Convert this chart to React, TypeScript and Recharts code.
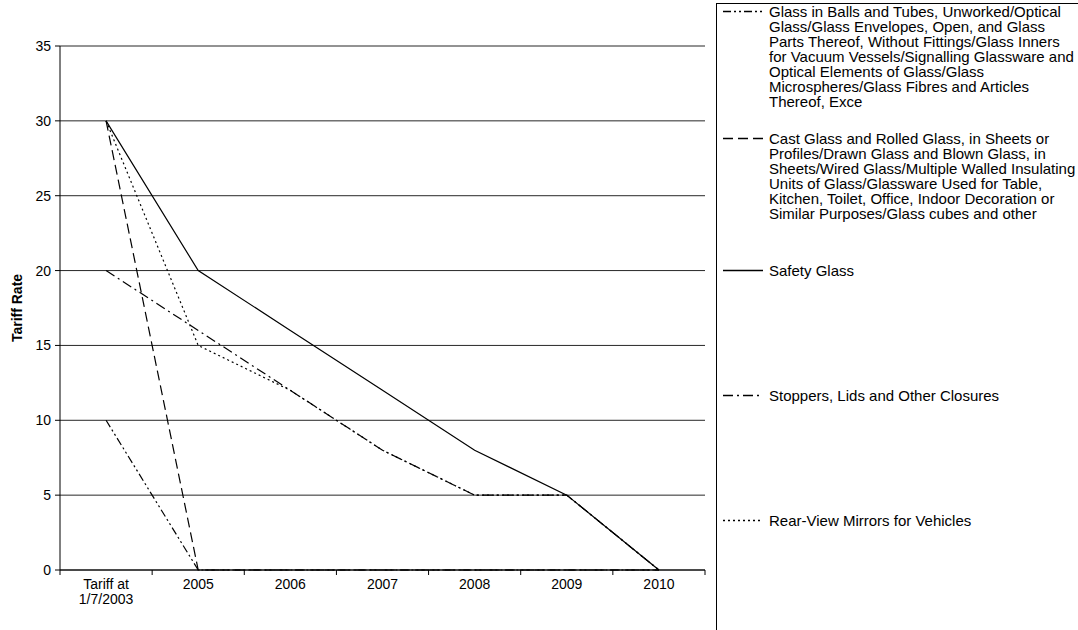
import React from 'react';
import { LineChart, Line, XAxis, YAxis, CartesianGrid, Legend, Label } from 'recharts';

// --- data ---
const categories = ['Tariff at 1/7/2003', '2005', '2006', '2007', '2008', '2009', '2010'];
const categoryLines = [['Tariff at', '1/7/2003'], ['2005'], ['2006'], ['2007'], ['2008'], ['2009'], ['2010']];

const glassBalls = [10, 0, 0, 0, 0, 0, 0];
const castGlass = [30, 0, 0, 0, 0, 0, 0];
const safetyGlass = [30, 20, 16, 12, 8, 5, 0];
const stoppers = [20, 16, 12, 8, 5, 5, 0];
const rearView = [30, 15, 12, 8, 5, 5, 0];

const yTicks = [0, 5, 10, 15, 20, 25, 30, 35];

const series = [
    {
        key: 'glassBalls',
        values: glassBalls,
        name: 'Glass in Balls and Tubes, Unworked/Optical Glass/Glass Envelopes, Open, and Glass Parts Thereof, Without Fittings/Glass Inners for Vacuum Vessels/Signalling Glassware and Optical Elements of Glass/Glass Microspheres/Glass Fibres and Articles Thereof, Exce',
        lines: [
            'Glass in Balls and Tubes, Unworked/Optical',
            'Glass/Glass Envelopes, Open, and Glass',
            'Parts Thereof, Without Fittings/Glass Inners',
            'for Vacuum Vessels/Signalling Glassware and',
            'Optical Elements of Glass/Glass',
            'Microspheres/Glass Fibres and Articles',
            'Thereof, Exce',
        ],
        dash: '8 3 2 3 2 3',
    },
    {
        key: 'castGlass',
        values: castGlass,
        name: 'Cast Glass and Rolled Glass, in Sheets or Profiles/Drawn Glass and Blown Glass, in Sheets/Wired Glass/Multiple Walled Insulating Units of Glass/Glassware Used for Table, Kitchen, Toilet, Office, Indoor Decoration or Similar Purposes/Glass cubes and other',
        lines: [
            'Cast Glass and Rolled Glass, in Sheets or',
            'Profiles/Drawn Glass and Blown Glass, in',
            'Sheets/Wired Glass/Multiple Walled Insulating',
            'Units of Glass/Glassware Used for Table,',
            'Kitchen, Toilet, Office, Indoor Decoration or',
            'Similar Purposes/Glass cubes and other',
        ],
        dash: '10 5',
    },
    { key: 'safetyGlass', values: safetyGlass, name: 'Safety Glass', lines: ['Safety Glass'], dash: undefined },
    { key: 'stoppers', values: stoppers, name: 'Stoppers, Lids and Other Closures', lines: ['Stoppers, Lids and Other Closures'], dash: '10 4 2 4' },
    { key: 'rearView', values: rearView, name: 'Rear-View Mirrors for Vehicles', lines: ['Rear-View Mirrors for Vehicles'], dash: '2 3' },
];

const data = categories.map((c, i) => {
    const row: any = { name: c };
    series.forEach((s) => { row[s.key] = s.values[i]; });
    return row;
});

// legend item offsets (px from legend top)
const legendTops = [0, 127, 259, 384, 509];

const FONT = '"Liberation Sans", Arial, sans-serif';

// category label + Excel-style tick marks between categories
function CategoryTick({ x, y, payload, width, visibleTicksCount }: any) {
    const lines = categoryLines[payload.index] || [payload.value];
    const half = width / visibleTicksCount / 2;
    const isLast = payload.index === visibleTicksCount - 1;
    return (
        <g>
            <line x1={x - half} x2={x - half} y1={y} y2={y + 5} stroke="#000" />
            {isLast && <line x1={x + half} x2={x + half} y1={y} y2={y + 5} stroke="#000" />}
            <text x={x} y={y} textAnchor="middle" fontSize={14} fill="#000" fontFamily={FONT}>
                {lines.map((l, i) => (
                    <tspan key={i} x={x} dy={i === 0 ? 19 : 15}>{l}</tspan>
                ))}
            </text>
        </g>
    );
}

function GlassLegend() {
    return (
        <div style={{ position: 'relative', width: 400, height: 640, borderLeft: '1px solid #000', borderTop: '1px solid #000', fontFamily: FONT, fontSize: 15, lineHeight: '15px', color: '#000' }}>
            {series.map((s, i) => (
                <div key={s.key} style={{ position: 'absolute', left: 6, top: legendTops[i], display: 'flex', alignItems: 'flex-start' }}>
                    <svg width={40} height={15} style={{ flex: 'none' }}>
                        <line x1={0} y1={7.5} x2={40} y2={7.5} stroke="#000" strokeWidth={1.5} strokeDasharray={s.dash} />
                    </svg>
                    <div style={{ marginLeft: 6, whiteSpace: 'nowrap' }}>
                        {s.lines.map((l, j) => <div key={j}>{l}</div>)}
                    </div>
                </div>
            ))}
        </div>
    );
}

export default function App() {
    return (
        <div style={{ position: 'absolute', left: 0, top: 0, width: 1078, height: 630, background: '#fff', overflow: 'hidden' }}>
            <LineChart width={1078} height={630} data={data} margin={{ top: 46, right: 373, bottom: 20, left: 0 }}>
                <XAxis dataKey="name" scale="band" height={40} tickSize={0} tickMargin={0} tickLine={false}
                    axisLine={{ stroke: '#000' }} tick={<CategoryTick />} interval={0} />
                <YAxis width={60} domain={[0, 35]} ticks={yTicks} tickSize={5} tickMargin={4}
                    tickLine={{ stroke: '#000' }} axisLine={{ stroke: '#000' }}
                    tick={{ fill: '#000', fontSize: 14, fontFamily: FONT }}>
                    <Label value="Tariff Rate" angle={-90} position="insideLeft" offset={17}
                        style={{ textAnchor: 'middle', fontWeight: 'bold', fontSize: 14, fontFamily: FONT, fill: '#000' }} />
                </YAxis>
                <CartesianGrid vertical={false} stroke="#000" strokeOpacity={0.85} />
                <Legend layout="vertical" align="center" verticalAlign="middle" content={<GlassLegend />}
                    wrapperStyle={{ left: 716, top: 3, width: 400, height: 640 }} />
                {series.map((s) => (
                    <Line key={s.key} type="linear" dataKey={s.key} name={s.name} stroke="#000" strokeWidth={1.2}
                        strokeDasharray={s.dash} dot={false} activeDot={false} isAnimationActive={false} />
                ))}
            </LineChart>
        </div>
    );
}
